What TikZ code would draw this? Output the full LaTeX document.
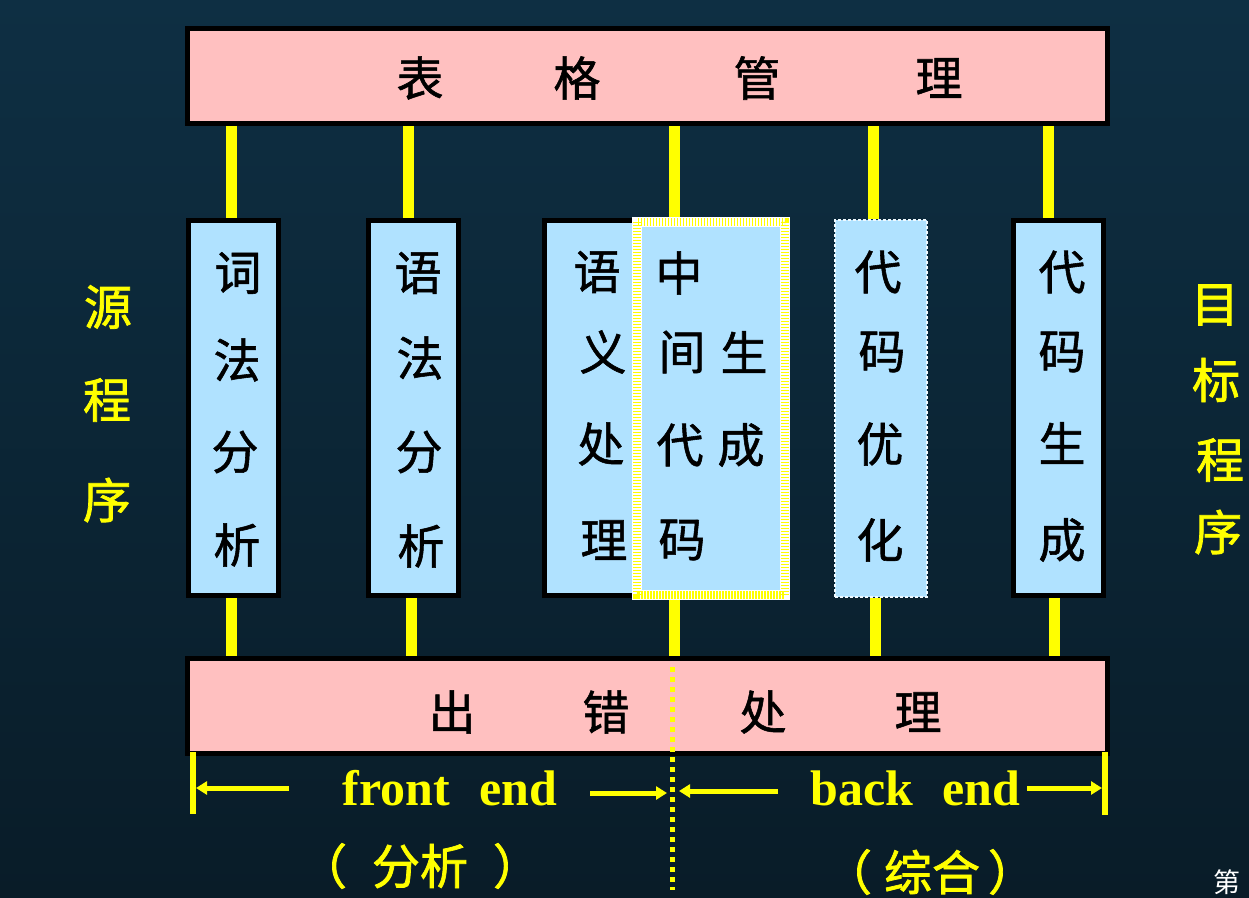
\documentclass[tikz,border=0pt]{standalone}
\usepackage{fontspec}
\newfontfamily\cjk[FakeBold=1.2]{Noto Sans CJK SC}
\newfontfamily\cjkw{Noto Sans CJK SC}
\newfontfamily\cjkb[FakeBold=1.5]{Noto Sans CJK SC}
\newfontfamily\tnr{Liberation Serif}
\usetikzlibrary{arrows.meta}
\definecolor{bgtop}{RGB}{14,47,67}
\definecolor{bgmid}{RGB}{17,58,82}
\definecolor{bgbot}{RGB}{9,28,40}
\definecolor{pinkf}{RGB}{255,192,192}
\definecolor{bluef}{RGB}{176,226,255}
\definecolor{ylw}{RGB}{255,255,0}
\begin{document}
\begin{tikzpicture}[x=1pt,y=-1pt,
  bar/.style={draw=black,line width=5pt,fill=pinkf,inner sep=0pt,minimum width=920pt,minimum height=95pt},
  stagebox/.style={draw=black,line width=5pt,fill=bluef,inner sep=0pt,minimum width=90pt,minimum height=375pt},
  ch/.style={font=\cjk\fontsize{47}{47}\selectfont,text=black,inner sep=0pt},
  ych/.style={font=\cjkb\fontsize{48}{48}\selectfont,text=ylw,inner sep=0pt},
  conn/.style={draw=ylw,line width=11pt},
  dimarrow/.style={draw=ylw,line width=5pt,-{Triangle[length=11pt,width=13pt]}},
  dimbar/.style={draw=ylw,line width=6pt},
  lbl/.style={font=\tnr\bfseries\fontsize{50}{50}\selectfont,text=ylw,inner sep=0pt,anchor=base}
]
\useasboundingbox (0,0) rectangle (1249,897);
\clip (0,0) rectangle (1249,897);
\fill[top color=bgtop,middle color=bgmid,bottom color=bgbot] (0,0) rectangle (1249,897);

% bars
\node[bar] (top) at (647,76) {};
\node[bar] (bot) at (647.5,705.5) {};

% stage boxes
\node[stagebox] (b1) at (233.5,408) {};
\node[stagebox] (b2) at (413.5,408) {};
\node[stagebox,minimum width=153pt] (b3) at (621,408) {};
\node[fill=bluef,inner sep=0pt,minimum width=158pt,minimum height=383pt] (b4) at (711,408.5) {};
\draw[white,line width=10pt] ([shift={(5,5)}]b4.north west) rectangle ([shift={(-5,-5)}]b4.south east);
\draw[ylw,line width=8pt,dash pattern=on 1.5pt off 1.5pt] ([shift={(5,5)}]b4.north west) rectangle ([shift={(-5,-5)}]b4.south east);
\node[fill=bluef,draw=white!80!bluef,line width=2pt,dash pattern=on 3pt off 2pt,inner sep=0pt,minimum width=92pt,minimum height=377pt] (b5) at (881,408.5) {};
\node[stagebox] (b6) at (1058.5,408) {};

% connector x positions
\coordinate (xt1) at (231.5,0);
\coordinate (xt2) at (408,0);
\coordinate (xt3) at (674,0);
\coordinate (xt4) at (873.5,0);
\coordinate (xt5) at (1048,0);
\coordinate (xb1) at (231,0);
\coordinate (xb2) at (411,0);
\coordinate (xb3) at (674,0);
\coordinate (xb4) at (875,0);
\coordinate (xb5) at (1054,0);
\draw[conn] (top.south -| xt1) -- (b1.north -| xt1);
\draw[conn] (top.south -| xt2) -- (b2.north -| xt2);
\draw[conn] (top.south -| xt3) -- (b4.north -| xt3);
\draw[conn] (top.south -| xt4) -- (b5.north -| xt4);
\draw[conn] (top.south -| xt5) -- (b6.north -| xt5);
\draw[conn] (b1.south -| xb1) -- (bot.north -| xb1);
\draw[conn] (b2.south -| xb2) -- (bot.north -| xb2);
\draw[conn] (b4.south -| xb3) -- (bot.north -| xb3);
\draw[conn] (b5.south -| xb4) -- (bot.north -| xb4);
\draw[conn] (b6.south -| xb5) -- (bot.north -| xb5);

% bar texts
\foreach \c/\x [count=\i] in {表/420,格/577,管/757,理/939}
  \node[ch] (tt\i) at (\x,78) {\c};
\foreach \c/\x [count=\i] in {出/452,错/606,处/763,理/918}
  \node[ch] (bt\i) at (\x,712) {\c};

% box texts
\foreach \c/\x/\y [count=\i] in {词/238/273,法/237/360,分/235/452,析/237/545}
  \node[ch] (c1\i) at (\x,\y) {\c};
\foreach \c/\x/\y [count=\i] in {语/418/273,法/420/358,分/419/452,析/421/546}
  \node[ch] (c2\i) at (\x,\y) {\c};
\foreach \c/\x/\y [count=\i] in {语/597/272,义/603/352,处/601/444,理/604/540}
  \node[ch] (c3\i) at (\x,\y) {\c};
\foreach \c/\x/\y [count=\i] in {中/679/273,间/682/352,生/744/352,代/680/445,成/741/445,码/682/540}
  \node[ch] (c4\i) at (\x,\y) {\c};
\foreach \c/\x/\y [count=\i] in {代/878/272,码/882/352,优/880/444,化/880/540}
  \node[ch] (c5\i) at (\x,\y) {\c};
\foreach \c/\x/\y [count=\i] in {代/1062/272,码/1062/352,生/1062/443,成/1062/540}
  \node[ch] (c6\i) at (\x,\y) {\c};

% side texts
\foreach \c/\x/\y [count=\i] in {源/108/307,程/107/400,序/107/500}
  \node[ych] (src\i) at (\x,\y) {\c};
\foreach \c/\x/\y [count=\i] in {目/1215/305,标/1216/380,程/1220/460,序/1218/532}
  \node[ych] (tgt\i) at (\x,\y) {\c};

% dotted divider
\coordinate (d1) at (672,667);
\coordinate (d2) at (672,890);
\draw[ylw,line width=5pt,dash pattern=on 5pt off 5pt] (d1) -- (d2);

% dimension bars and arrows
\coordinate (lb1) at (193,752);
\coordinate (lb2) at (193,814);
\coordinate (rb1) at (1105,752);
\coordinate (rb2) at (1105,815);
\draw[dimbar] (lb1) -- (lb2);
\draw[dimbar] (rb1) -- (rb2);
\coordinate (fa1) at (289,788);
\coordinate (fa2) at (196,788);
\coordinate (fb1) at (590,793);
\coordinate (fb2) at (667,793);
\coordinate (ba1) at (778,791);
\coordinate (ba2) at (679,791);
\coordinate (bb1) at (1027,788);
\coordinate (bb2) at (1102,788);
\draw[dimarrow] (fa1) -- (fa2);
\draw[dimarrow] (fb1) -- (fb2);
\draw[dimarrow] (ba1) -- (ba2);
\draw[dimarrow] (bb1) -- (bb2);

\node[lbl] (fe) at (450,805) {front\hspace{0.58em}end};
\node[lbl] (be) at (915,805) {back\hspace{0.58em}end};

\node[ych] (fzl) at (323,866) {（};
\node[ych] (fz) at (420,866) {分析};
\node[ych] (fzr) at (517,866) {）};
\node[ych] (bzl) at (848,872) {（};
\node[ych] (bz) at (932,872) {综合};
\node[ych] (bzr) at (1012,872) {）};
\node[font=\cjkw\fontsize{27}{27}\selectfont,text=white,inner sep=0pt] (pg) at (1227,882) {第};
\end{tikzpicture}
\end{document}
